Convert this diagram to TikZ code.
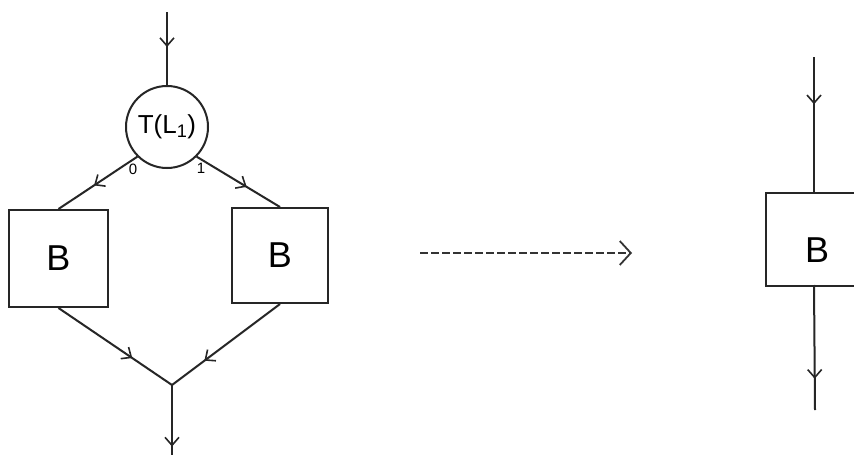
\documentclass[tikz,border=0pt]{standalone}
\usepackage{fontspec}
\setmainfont{Liberation Sans}
\usetikzlibrary{arrows.meta,decorations.markings}
\tikzset{
  ink/.style={line width=2pt, draw=black!85},
  blockbox/.style={ink, rectangle, inner sep=0pt, font=\fontsize{36}{36}\selectfont},
  testnode/.style={ink, circle, inner sep=0pt, minimum size=82pt, font=\fontsize{26}{26}\selectfont},
  midarrow/.style={postaction={decorate, decoration={markings,
      mark=at position #1 with {\arrow{Straight Barb[length=8pt,width=14pt,line width=1.6pt]}}}}},
  midarrow/.default=0.5,
  branchlabel/.style={font=\fontsize{15}{15}\selectfont, inner sep=0pt},
}
\begin{document}
\begin{tikzpicture}[x=1pt,y=-1pt]
  \useasboundingbox (0,0) rectangle (854,455);
  \clip (0,0) rectangle (854,455);
  \fill[white] (0,0) rectangle (854,455);

  % if-then-else structure with identical branches
  \coordinate (in) at (167,12);
  \node[testnode] (T) at (167,127) {T(L\textsubscript{1})};
  \node[blockbox, minimum width=99pt, minimum height=97pt] (B1) at (58.5,258.5) {B};
  \node[blockbox, minimum width=96pt, minimum height=95pt] (B2) at (280,255.5) {B};
  \coordinate (join) at (172,385);
  \coordinate (out) at (172,460);

  \node[branchlabel] (l0) at (133,169) {0};
  \node[branchlabel] (l1) at (201,168) {1};

  \draw[ink, midarrow=0.48] (in) -- (T.north);
  \draw[ink, midarrow=0.55] (T.225) -- (B1.north);
  \draw[ink, midarrow=0.6] (T.-45) -- (B2.north);
  \draw[ink, midarrow=0.65] (B1.south) -- (join);
  \draw[ink, midarrow=0.7] (B2.south) -- (join);
  \draw[ink, midarrow=0.82] (join) -- (out);

  % transformation arrow
  \coordinate (tfrom) at (420,253);
  \coordinate (tto) at (632,253);
  \draw[line width=1.5pt, draw=black!80, dash pattern=on 8pt off 3pt,
        -{Straight Barb[length=11pt,width=24pt,line width=1.8pt]}] (tfrom) -- (tto);

  % reduced structure: the single block
  \coordinate (rin) at (814,57);
  \node[blockbox, minimum width=110pt, minimum height=93pt, anchor=north west] (R) at (765,192) {};
  \node[font=\fontsize{36}{36}\selectfont, inner sep=0pt] (RB) at (817,250) {B};
  \coordinate (rtop) at (814,192);
  \coordinate (rbot) at (814,285);
  \coordinate (rout) at (815,410);
  \draw[ink, midarrow=0.35] (rin) -- (rtop);
  \draw[ink, midarrow=0.75] (rbot) -- (rout);
\end{tikzpicture}
\end{document}
